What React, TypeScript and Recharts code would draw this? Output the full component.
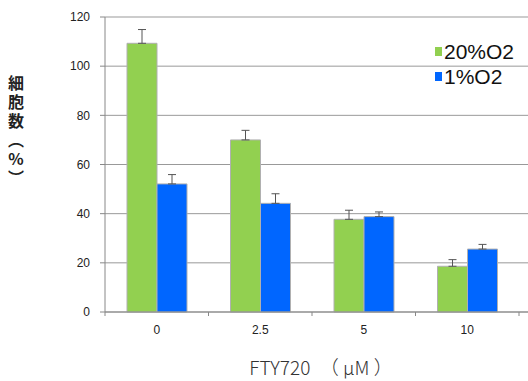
import React from 'react';
import { BarChart, Bar, XAxis, YAxis, CartesianGrid, ErrorBar, Legend, Label } from 'recharts';

const categories = ['0', '2.5', '5', '10'];
const normoxia = [109.3, 70, 37.7, 18.6];
const normoxiaErr = [5.6, 3.9, 3.7, 2.7];
const hypoxia = [52.1, 44.2, 38.8, 25.6];
const hypoxiaErr = [3.8, 3.9, 1.9, 1.9];
const yTicks = [0, 20, 40, 60, 80, 100, 120];
const seriesNames = ['20%O2', '1%O2'];
const colors = ['#92D050', '#0066FF'];

const data = categories.map((c, i) => ({
  cat: c,
  a: normoxia[i],
  aErr: [0, normoxiaErr[i]],
  b: hypoxia[i],
  bErr: [0, hypoxiaErr[i]],
}));

const TICK_SIZE = 5;
const TICK_MARGIN = 8;

const XTick = (props: any) => {
  const { x, y, payload, index, visibleTicksCount } = props;
  const axisY = y - TICK_SIZE - TICK_MARGIN;
  const off = payload.offset || 0;
  return (
    <g>
      <line x1={x - off} x2={x - off} y1={axisY} y2={axisY + 4} stroke="#888" />
      {index === visibleTicksCount - 1 && (
        <line x1={x + off} x2={x + off} y1={axisY} y2={axisY + 4} stroke="#888" />
      )}
      <text x={x} y={y} dy="0.71em" textAnchor="middle" fontSize={12} fill="#222" fontFamily="'Liberation Sans', Arial, sans-serif">
        {payload.value}
      </text>
    </g>
  );
};

const LegendContent = () => (
  <div style={{ fontFamily: "'Liberation Sans', Arial, sans-serif", fontSize: 21, color: '#111', lineHeight: '25px' }}>
    {seriesNames.map((n, i) => (
      <div key={n} style={{ display: 'flex', alignItems: 'center' }}>
        <span style={{ display: 'inline-block', width: 7, height: 9, background: colors[i], marginRight: 2 }} />
        <span>{n}</span>
      </div>
    ))}
  </div>
);

const YLabel = () => (
  <text
    x={16}
    y={75}
    fontFamily="'Noto Sans CJK JP', sans-serif"
    fontWeight="bold"
    fontSize={16}
    fill="#222"
    style={{ writingMode: 'vertical-rl', textOrientation: 'upright', letterSpacing: '3px' } as any}
  >
    細胞数（%）
  </text>
);

const XLabel = () => (
  <text x={321} y={375} textAnchor="middle" fontFamily="'Noto Sans CJK JP', sans-serif" fontWeight={300} fontSize={19} fill="#333">
    FTY720　（ μM ）
  </text>
);

export default function App() {
  return (
    <div style={{ position: 'absolute', left: 0, top: 0, background: '#fff' }}>
      <BarChart
        width={528}
        height={381}
        data={data}
        margin={{ top: 17, right: 0, left: 0, bottom: 39 }}
        barSize={30}
        barGap={0}
      >
        <CartesianGrid vertical={false} stroke="#999" strokeWidth={1} />
        <XAxis
          dataKey="cat"
          height={30}
          padding={{ left: 0, right: 9 }}
          axisLine={{ stroke: '#888' }}
          tickLine={false}
          tickSize={TICK_SIZE}
          tickMargin={TICK_MARGIN}
          tick={<XTick />}
          interval={0}
        >
          <Label content={<XLabel />} />
        </XAxis>
        <YAxis
          width={105}
          domain={[0, 120]}
          ticks={yTicks}
          interval={0}
          axisLine={{ stroke: '#888' }}
          tickLine={{ stroke: '#888' }}
          tickSize={5}
          tickMargin={10}
          tick={{ fontSize: 12, fill: '#222', fontFamily: "'Liberation Sans', Arial, sans-serif" }}
        >
          <Label content={<YLabel />} />
        </YAxis>
        <Legend
          content={<LegendContent />}
          layout="horizontal"
          verticalAlign="middle"
          align="center"
          wrapperStyle={{ top: 39, left: 435, width: 93 }}
        />
        <Bar dataKey="a" name={seriesNames[0]} fill={colors[0]} stroke="#b0b0b0" strokeWidth={1} isAnimationActive={false}>
          <ErrorBar dataKey="aErr" width={4} stroke="#555" strokeWidth={1} direction="y" />
        </Bar>
        <Bar dataKey="b" name={seriesNames[1]} fill={colors[1]} stroke="#b0b0b0" strokeWidth={1} isAnimationActive={false}>
          <ErrorBar dataKey="bErr" width={4} stroke="#555" strokeWidth={1} direction="y" />
        </Bar>
      </BarChart>
    </div>
  );
}
